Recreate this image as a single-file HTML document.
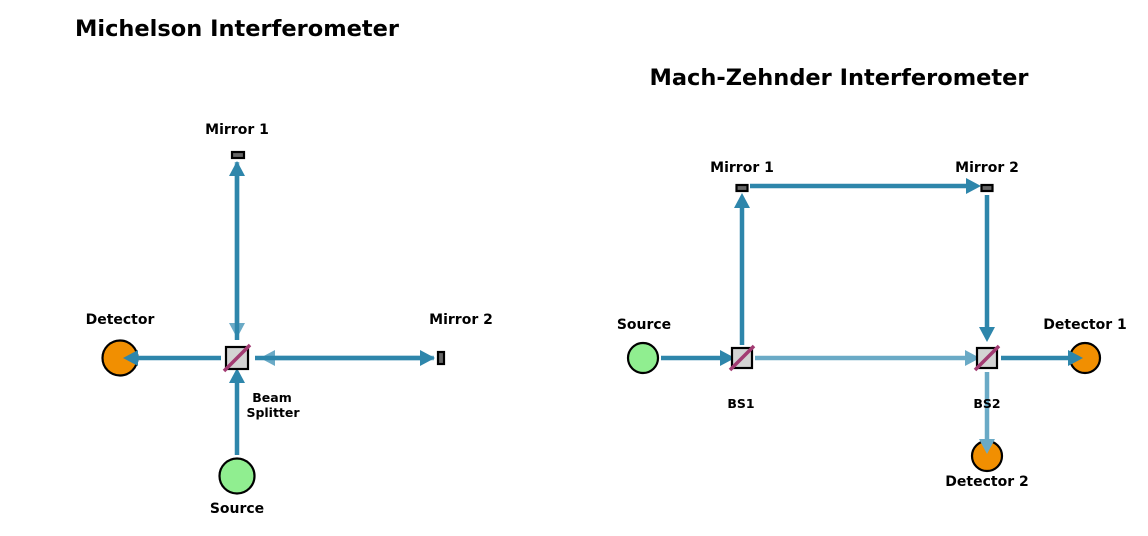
<!DOCTYPE html>
<html><head><meta charset="utf-8">
<style>
html,body{margin:0;padding:0;background:#fff;}
svg{display:block;}
text{font-family:"DejaVu Sans","Liberation Sans",sans-serif;font-weight:bold;fill:#000;}
</style></head>
<body>
<svg id="d" width="1148" height="536" viewBox="0 0 1148 536" xmlns="http://www.w3.org/2000/svg">
<text x="237" y="36" font-size="22.5" text-anchor="middle">Michelson Interferometer</text>
<text x="839" y="85" font-size="22.5" text-anchor="middle">Mach-Zehnder Interferometer</text>
<g id="circles"></g>
<g id="beamsL"></g>
<g id="beams"></g>
<g id="parts"></g>
<text x="237" y="134" font-size="14" text-anchor="middle">Mirror 1</text>
<text x="461" y="324" font-size="14" text-anchor="middle">Mirror 2</text>
<text x="120" y="324" font-size="14" text-anchor="middle">Detector</text>
<text x="237" y="513" font-size="14" text-anchor="middle">Source</text>
<text x="272" y="402" font-size="12.5" text-anchor="middle">Beam</text>
<text x="273" y="417" font-size="12.5" text-anchor="middle">Splitter</text>
<text x="742" y="172" font-size="14" text-anchor="middle">Mirror 1</text>
<text x="987" y="172" font-size="14" text-anchor="middle">Mirror 2</text>
<text x="644" y="329" font-size="14" text-anchor="middle">Source</text>
<text x="1085" y="329" font-size="14" text-anchor="middle">Detector 1</text>
<text x="987" y="486" font-size="14" text-anchor="middle">Detector 2</text>
<text x="741" y="408" font-size="12.5" text-anchor="middle">BS1</text>
<text x="987" y="408" font-size="12.5" text-anchor="middle">BS2</text>
</svg>
<script>
const NS="http://www.w3.org/2000/svg";
function mk(tag,attrs,parent){const e=document.createElementNS(NS,tag);for(const k in attrs)e.setAttribute(k,attrs[k]);document.getElementById(parent).appendChild(e);return e;}
function arrow(x1,y1,x2,y2,light,name){
  const col=light?"#6aaac6":"#2e86ab";
  const g=light?"beamsL":"beams";
  const dx=x2-x1,dy=y2-y1,L=Math.hypot(dx,dy),ux=dx/L,uy=dy/L,h=15,w=8;
  const bx=x2-ux*h,by=y2-uy*h;
  const ln=mk("line",{x1:x1,y1:y1,x2:bx,y2:by,stroke:col,"stroke-width":4.5},g);
  
  
  const p=mk("polygon",{points:`${x2},${y2} ${bx-uy*w},${by+ux*w} ${bx+uy*w},${by-ux*w}`,fill:col},g);
  
  
}
function circ(x,y,r,fill,name){
  const c=mk("circle",{cx:x,cy:y,r:r,fill:fill,stroke:"#000","stroke-width":2.2},"circles");
  
  
}
function bs(x,y,s,name){
  const r=mk("rect",{x:x-s/2,y:y-s/2,width:s,height:s,fill:"#d3d3d3",stroke:"#000","stroke-width":2.2},"parts");
  
  
  const l=mk("line",{x1:x-s/2-2,y1:y+s/2+2,x2:x+s/2+2,y2:y-s/2-2,stroke:"#a23b72","stroke-width":3.5},"parts");
  
  
}
function mirror(x,y,w,h,name){
  const r=mk("rect",{x:x-w/2,y:y-h/2,width:w,height:h,fill:"#666",stroke:"#000","stroke-width":2.2},"parts");
  
  
}
// Michelson
circ(120,358,17.5,"#f18f01","michelson-detector");
circ(237,476,17.5,"#90ee90","michelson-source");
arrow(237,162,237,338,true,"beam-mirror1-return");
arrow(434,358,260,358,true,"beam-mirror2-return");
arrow(237,455,237,368,false,"beam-source-to-bs");
arrow(237,340,237,161,false,"beam-bs-to-mirror1");
arrow(255,358,435,358,false,"beam-bs-to-mirror2");
arrow(221,358,123,358,false,"beam-bs-to-detector");
bs(237,358,22,"michelson-beam-splitter");
mirror(238,155,12,6,"michelson-mirror1");
mirror(441,358,6,12,"michelson-mirror2");
// Mach-Zehnder
circ(643,358,15,"#90ee90","mz-source");
circ(1085,358,15,"#f18f01","mz-detector1");
circ(987,456,15,"#f18f01","mz-detector2");
arrow(755,358,980,358,true,"beam-bs1-to-bs2");
arrow(987,372,987,454,true,"beam-bs2-to-detector2");
arrow(661,358,735,358,false,"beam-source-to-bs1");
arrow(742,345,742,193,false,"beam-bs1-to-mirror1");
arrow(750,186,981,186,false,"beam-mirror1-to-mirror2");
arrow(987,195,987,342,false,"beam-mirror2-to-bs2");
arrow(1001,358,1083,358,false,"beam-bs2-to-detector1");
bs(742,358,20,"mz-bs1");
bs(987,358,20,"mz-bs2");
mirror(742,188,11,6,"mz-mirror1");
mirror(987,188,11,6,"mz-mirror2");
</script>
</body></html>
